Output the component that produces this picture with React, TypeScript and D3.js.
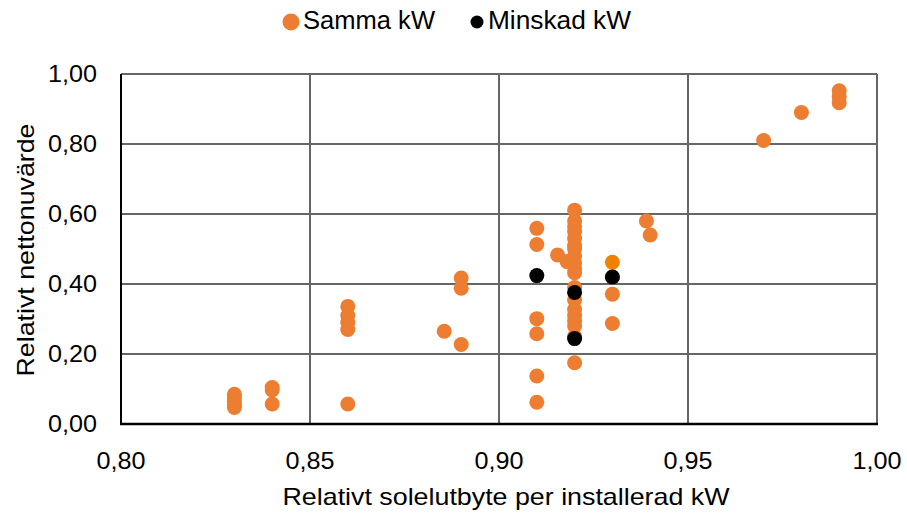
import React from 'react';
import * as d3 from 'd3';

// Samma kW (orange)
const sammaX = [
  0.83, 0.83, 0.83, 0.83, 0.83,
  0.84, 0.84, 0.84,
  0.86, 0.86, 0.86, 0.86, 0.86,
  0.8855, 0.89, 0.89, 0.89,
  0.91, 0.91, 0.91, 0.91, 0.91, 0.91,
  0.9155, 0.918,
  0.92, 0.92, 0.92, 0.92, 0.92, 0.92, 0.92, 0.92, 0.92, 0.92, 0.92,
  0.92, 0.92, 0.92, 0.92, 0.92, 0.92, 0.92, 0.92,
  0.93, 0.93, 0.93,
  0.939, 0.94,
  0.97, 0.98, 0.99, 0.99, 0.99,
];
const sammaY = [
  0.085, 0.075, 0.065, 0.055, 0.047,
  0.104, 0.097, 0.057,
  0.336, 0.31, 0.29, 0.27, 0.057,
  0.265, 0.417, 0.388, 0.227,
  0.559, 0.513, 0.301, 0.258, 0.137, 0.062,
  0.483, 0.464,
  0.611, 0.58, 0.565, 0.55, 0.53, 0.51, 0.5, 0.48, 0.46, 0.445, 0.432,
  0.39, 0.355, 0.327, 0.31, 0.295, 0.28, 0.25, 0.175,
  0.42, 0.371, 0.287,
  0.58, 0.54,
  0.81, 0.89, 0.952, 0.935, 0.918,
];

// Minskad kW (black)
const minskadX = [0.91, 0.92, 0.92, 0.93];
const minskadY = [0.424, 0.376, 0.244, 0.42];

// single brighter orange point
const extraX = [0.93];
const extraY = [0.462];

const xTicks = [0.8, 0.85, 0.9, 0.95, 1.0];
const yTicks = [0, 0.2, 0.4, 0.6, 0.8, 1.0];

const W = 907;
const H = 518;
const left = 121;
const right = 877;
const top = 74;
const bottom = 424;
const font = '"Liberation Sans", Arial, sans-serif';

export default function App() {
  const x = d3.scaleLinear().domain([0.8, 1.0]).range([left, right]);
  const y = d3.scaleLinear().domain([0, 1.0]).range([bottom, top]);
  const fmt = (v: number) => v.toFixed(2).replace('.', ',');
  const r = 7.5;

  return (
    <svg width={W} height={H} style={{ position: 'absolute', left: 0, top: 0, background: '#fff' }}>
      {/* grid */}
      {xTicks.slice(1).map(t => (
        <line key={'gx' + t} x1={x(t)} x2={x(t)} y1={top} y2={bottom} stroke="#666" strokeWidth={2} />
      ))}
      {yTicks.slice(1).map(t => (
        <line key={'gy' + t} x1={left} x2={right} y1={y(t)} y2={y(t)} stroke="#666" strokeWidth={2} />
      ))}
      {/* axes */}
      <line x1={left} x2={left} y1={top} y2={bottom + 1} stroke="#000" strokeWidth={2} />
      <line x1={left - 1} x2={right + 1} y1={bottom} y2={bottom} stroke="#000" strokeWidth={2.5} />

      {/* tick labels */}
      {yTicks.map(t => (
        <text key={'ty' + t} x={97} y={y(t)} dy="0.36em" textAnchor="end" fontFamily={font} fontSize={23}
          textLength={49} lengthAdjust="spacingAndGlyphs" fill="#000">
          {fmt(t)}
        </text>
      ))}
      {xTicks.map(t => (
        <text key={'tx' + t} x={x(t)} y={469} textAnchor="middle" fontFamily={font} fontSize={23}
          textLength={49} lengthAdjust="spacingAndGlyphs" fill="#000">
          {fmt(t)}
        </text>
      ))}

      {/* axis titles */}
      <text x={506} y={505} textAnchor="middle" fontFamily={font} fontSize={24}
        textLength={447} lengthAdjust="spacingAndGlyphs" fill="#000">
        Relativt solelutbyte per installerad kW
      </text>
      <text transform={`translate(34,250) rotate(-90)`} textAnchor="middle" fontFamily={font} fontSize={24}
        textLength={253} lengthAdjust="spacingAndGlyphs" fill="#000">
        Relativt nettonuvärde
      </text>

      {/* points */}
      {sammaX.map((v, i) => (
        <circle key={'s' + i} cx={x(v)} cy={y(sammaY[i])} r={r} fill="#ED7D31" />
      ))}
      {extraX.map((v, i) => (
        <circle key={'e' + i} cx={x(v)} cy={y(extraY[i])} r={r} fill="#F08200" />
      ))}
      {minskadX.map((v, i) => (
        <circle key={'m' + i} cx={x(v)} cy={y(minskadY[i])} r={r} fill="#000" />
      ))}

      {/* legend */}
      <circle cx={291} cy={22} r={8.5} fill="#ED7D31" />
      <text x={303} y={29} fontFamily={font} fontSize={25} textLength={132} lengthAdjust="spacingAndGlyphs" fill="#000">Samma kW</text>
      <circle cx={477} cy={22} r={6.5} fill="#000" />
      <text x={488} y={29} fontFamily={font} fontSize={25} textLength={143} lengthAdjust="spacingAndGlyphs" fill="#000">Minskad kW</text>
    </svg>
  );
}
